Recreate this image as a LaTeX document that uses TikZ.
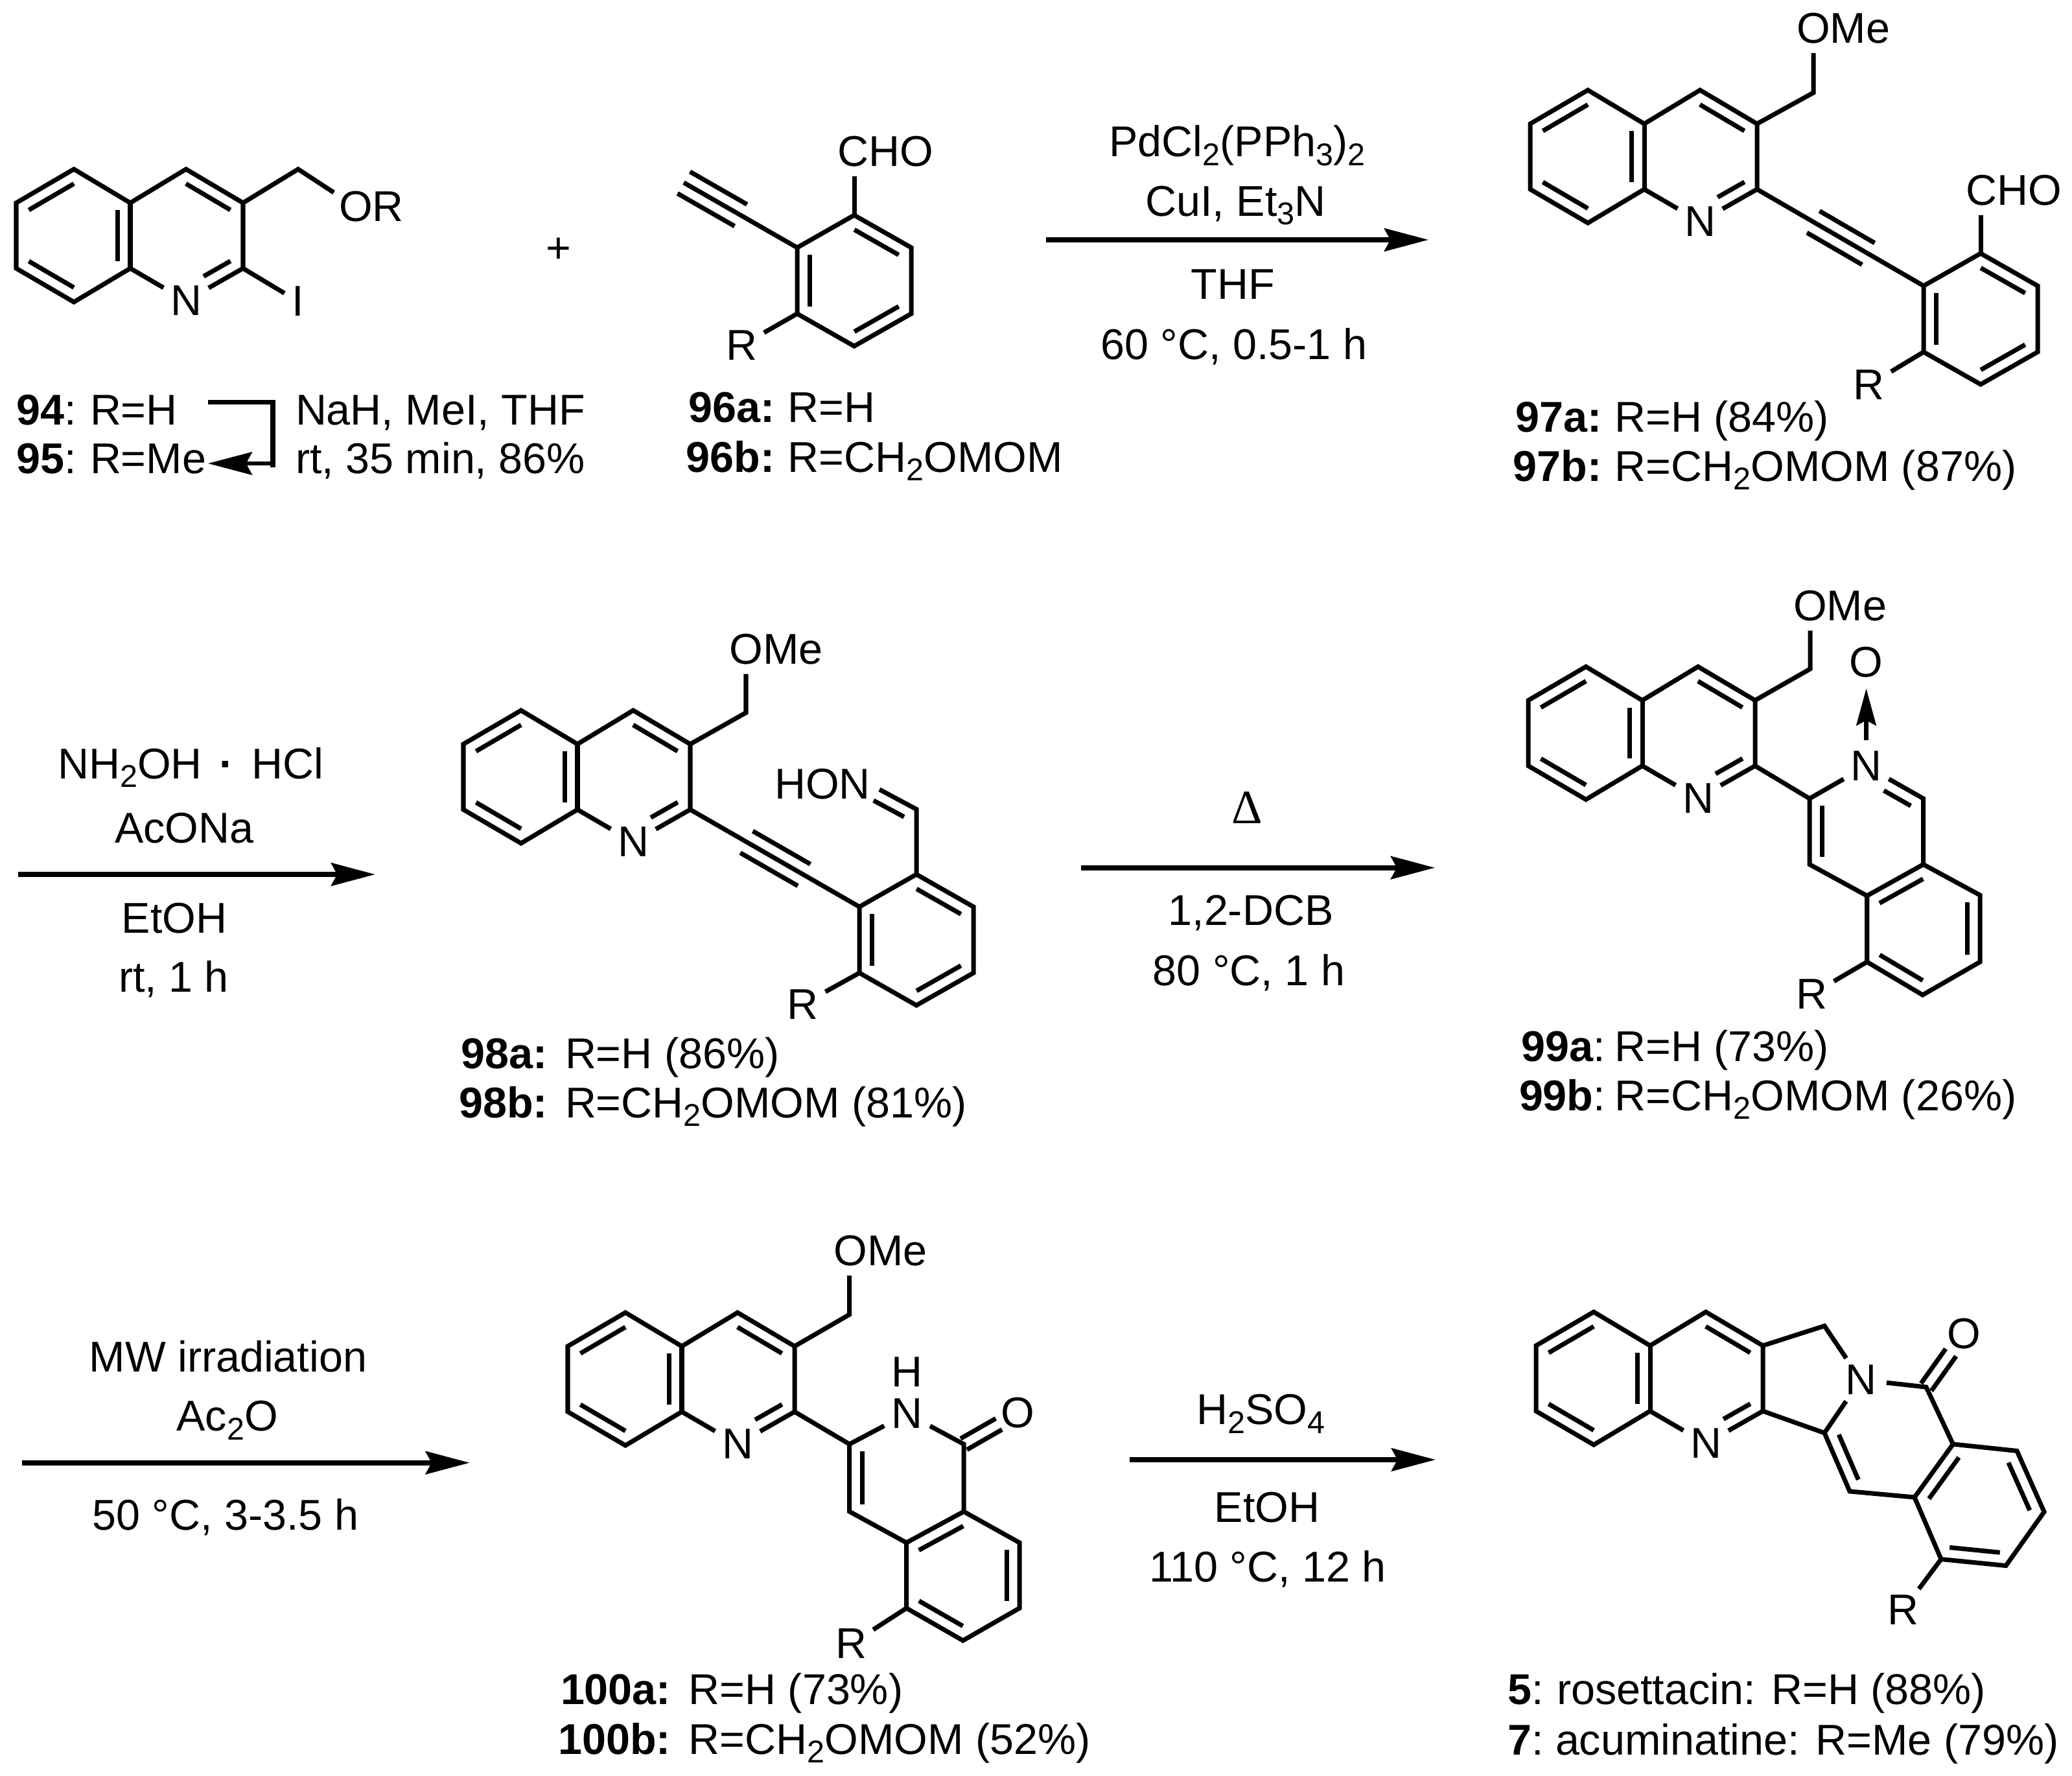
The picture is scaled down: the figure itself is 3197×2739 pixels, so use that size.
\documentclass[tikz,border=0pt]{standalone}
\usepackage{fontspec}
\setmainfont{Liberation Sans}
\newfontfamily\deltafont{Liberation Serif}
\usetikzlibrary{calc,arrows.meta}
\tikzset{
  bond/.style={line width=2pt,line join=miter,black},
  txt/.style={inner sep=0pt,outer sep=0pt,font=\fontsize{18.9pt}{20pt}\selectfont},
  atom/.style={txt,circle,minimum size=22.8pt},
  tinyatom/.style={txt,circle,minimum size=14pt},
  grp/.style={txt,anchor=base,outer ysep=4.3pt},
  reag/.style={txt,anchor=base},
  rxn/.style={line width=2.3pt,-{Stealth[length=19.3pt,width=10pt,inset=2.6pt]}},
}
\newcommand{\sbs}[1]{\raisebox{-3.8pt}{\fontsize{13.8pt}{14pt}\selectfont #1}}
\newcommand{\dblx}[4]{\draw[bond] ($(#1)!#3!(#2)!5.5pt!90:(#2)$) -- ($(#2)!#4!(#1)!5.5pt!-90:(#1)$);}
\newcommand{\dbl}[2]{\dblx{#1}{#2}{3.2pt}{3.2pt}}
\newcommand{\carbonyl}[3]{%
  \draw[bond] ($(#1)!2.8pt!90:(#2)$) -- ($(#2)!#3!(#1)!2.8pt!-90:(#1)$);
  \draw[bond] ($(#1)!2.8pt!-90:(#2)$) -- ($(#2)!#3!(#1)!2.8pt!90:(#1)$);}
\newcommand{\triplebond}[2]{\dblx{#1}{#2}{28.5pt}{28pt}\dblx{#2}{#1}{28pt}{28.5pt}\draw[bond] (#1)--(#2);}
\newcommand{\quin}[3]{%
  \begin{scope}[shift={(#2,#3)}]
    \coordinate (#1J) at (0,0);
    \coordinate (#1a) at (-87,-52);
    \coordinate (#1b) at (-176,0);
    \coordinate (#1c) at (-176,101);
    \coordinate (#1d) at (-87,153);
    \coordinate (#1K) at (0,101);
    \coordinate (#1C) at (174,101);
    \coordinate (#1D) at (174,0);
    \coordinate (#1E) at (86,-52);
    \node[atom] (#1N) at (86,151) {N};
  \end{scope}
  \draw[bond] (#1N)--(#1C)--(#1D)--(#1E)--(#1J)--(#1a)--(#1b)--(#1c)--(#1d)--(#1K)--(#1N);
  \draw[bond] (#1J)--(#1K);
  \dbl{#1a}{#1b}\dbl{#1c}{#1d}\dbl{#1K}{#1J}\dbl{#1D}{#1E}
  \dblx{#1N}{#1C}{12pt}{3.2pt}}
\newcommand{\aryl}[3]{%
  \begin{scope}[shift={(#2,#3)}]
    \coordinate (#1LT) at (0,0);
    \coordinate (#1T) at (88,-50);
    \coordinate (#1RT) at (176,0);
    \coordinate (#1RB) at (176,102);
    \coordinate (#1B) at (88,152);
    \coordinate (#1LB) at (0,102);
  \end{scope}
  \draw[bond] (#1LT)--(#1T)--(#1RT)--(#1RB)--(#1B)--(#1LB)--cycle;
  \dbl{#1RT}{#1T}\dbl{#1LT}{#1LB}\dbl{#1B}{#1RB}}
\newcommand{\lab}[6]{%
  \node[txt,anchor=base east] (#1id) at (#2,#4) {#5};
  \node[txt,anchor=base west] (#1r) at (#3,#4) {#6};}
\begin{document}
\begin{tikzpicture}[x=0.01cm,y=-0.01cm]
\useasboundingbox (0,0) rectangle (3197,2739);

% ---------- 94 / 95
\quin{p}{201}{313}
\coordinate (pch) at (460,261);
\coordinate (porb) at (515,297);
\node[reag] (por) at (573,341) {OR};
\node[tinyatom] (pI) at (460,465) {I};
\draw[bond] (pD)--(pch)--(porb);
\draw[bond] (pC)--(pI);
\lab{pa}{118}{139}{655}{\textbf{94}:}{R=H}
\lab{pb}{118}{139}{730}{\textbf{95}:}{R=Me}
\node[txt,anchor=base west] (pc1) at (456,655) {NaH, MeI, THF};
\node[txt,anchor=base west] (pc2) at (456,730) {rt, 35 min, 86\%};
\coordinate (ms) at (321,620.6);
\coordinate (mc) at (421,620.6);
\coordinate (md) at (421,721);
\coordinate (me) at (421,715);
\coordinate (mt) at (321,715);
\draw[bond] (ms)--(mc)--(md);
\draw[line width=1.7pt,-{Stealth[length=19.3pt,width=10pt,inset=2.6pt]}] (me)--(mt);
\node[txt] (plus) at (862,386) {+};

% ---------- 96
\aryl{q}{1230}{382}
\coordinate (qe) at (1055,281.7);
\node[grp] (qcho) at (1366,256) {CHO};
\node[atom] (qR) at (1144,533) {R};
\draw[bond] (qT)--(qcho.south -| qT);
\draw[bond] (qLB)--(qR);
\draw[bond] (qe)--(qLT);
\dblx{qe}{qLT}{0pt}{28.5pt}
\dblx{qLT}{qe}{28.5pt}{0pt}
\lab{qa}{1195.5}{1215.6}{651}{\textbf{96a:}}{R=H}
\lab{qb}{1195.5}{1215.6}{728}{\textbf{96b:}}{R=CH\sbs{2}OMOM}

% ---------- arrow 1
\coordinate (a1s) at (1614,370);
\coordinate (a1t) at (2204,370);
\draw[rxn] (a1s)--(a1t);
\node[reag] (a1a) at (1909,241.7) {PdCl\sbs{2}(PPh\sbs{3})\sbs{2}};
\node[reag] (a1b) at (1906.5,333) {CuI, Et\sbs{3}N};
\node[reag] (a1c) at (1902,461.7) {THF};
\node[reag] (a1d) at (1904,554) {60 °C, 0.5-1 h};

% ---------- 97
\quin{r}{2537}{191}
\aryl{s}{2968}{441}
\coordinate (rch) at (2798,143);
\node[grp] (rome) at (2844,66) {OMe};
\node[grp] (rcho) at (3107,316) {CHO};
\node[atom] (sR) at (2883.5,594) {R};
\draw[bond] (rD)--(rch)--(rome.south -| rch);
\draw[bond] (sT)--(rcho.south -| sT);
\draw[bond] (sLB)--(sR);
\triplebond{rC}{sLT}
\lab{ra}{2471.6}{2491.6}{666}{\textbf{97a:}}{R=H (84\%)}
\lab{rb}{2471.6}{2491.6}{742}{\textbf{97b:}}{R=CH\sbs{2}OMOM (87\%)}

% ---------- arrow 2
\coordinate (a2s) at (28,1349);
\coordinate (a2t) at (579,1349);
\draw[rxn] (a2s)--(a2t);
\node[reag] (a2a) at (294,1201) {NH\sbs{2}OH\hspace{.13em} \textbf{·} \hspace{.13em}HCl};
\node[reag] (a2b) at (284.5,1300.7) {AcONa};
\node[reag] (a2c) at (269,1439) {EtOH};
\node[reag] (a2d) at (268,1530.7) {rt, 1 h};

% ---------- 98
\quin{t}{891}{1148}
\aryl{u}{1326}{1399}
\coordinate (tch) at (1151,1099.5);
\node[grp] (tome) at (1197.5,1024) {OMe};
\draw[bond] (tD)--(tch)--(tome.south -| tch);
\triplebond{tC}{uLT}
\coordinate (uch) at (1414,1248.5);
\coordinate (unoe) at (1357,1218);
\node[reag] (uhon) at (1269,1232) {HON};
\draw[bond] (unoe)--(uch)--(uT);
\dblx{uch}{unoe}{3.2pt}{0pt}
\node[atom] (uR) at (1238.5,1549.5) {R};
\draw[bond] (uLB)--(uR);
\lab{ta}{845}{872}{1648}{\textbf{98a:}}{R=H (86\%)}
\lab{tb}{845}{872}{1724.5}{\textbf{98b:}}{R=CH\sbs{2}OMOM (81\%)}

% ---------- arrow 3
\coordinate (a3s) at (1667.7,1338.7);
\coordinate (a3t) at (2214,1338.7);
\draw[rxn] (a3s)--(a3t);
\node[reag,font=\fontsize{21pt}{22pt}\selectfont] (a3a) at (1924.7,1270.7) {\deltafont Δ};
\node[reag] (a3b) at (1930,1427.7) {1,2-DCB};
\node[reag] (a3c) at (1927,1520) {80 °C, 1 h};

% ---------- 99
\quin{v}{2534}{1080.5}
\coordinate (vch) at (2793,1032);
\node[grp] (vome) at (2839,957) {OMe};
\draw[bond] (vD)--(vch)--(vome.south -| vch);
\node[atom] (wN) at (2879.5,1182) {N};
\node[atom] (wO) at (2879.5,1022) {O};
\draw[bond,-{Stealth[length=16.2pt,width=8.6pt,inset=2.2pt]}] (wN)--(wO);
\coordinate (w3) at (2792,1232);
\coordinate (w4) at (2792,1333.6);
\coordinate (w4a) at (2880.7,1382);
\coordinate (w8a) at (2967.6,1333.6);
\coordinate (w1) at (2967.6,1232);
\coordinate (w5) at (2880.7,1484);
\coordinate (w6) at (2966.5,1535);
\coordinate (w7) at (3055,1484);
\coordinate (w8) at (3055,1381);
\draw[bond] (vC)--(w3);
\draw[bond] (wN)--(w3)--(w4)--(w4a)--(w5)--(w6)--(w7)--(w8)--(w8a)--(w1)--(wN);
\draw[bond] (w4a)--(w8a);
\dbl{w3}{w4}\dbl{w8a}{w4a}\dbl{w5}{w6}\dbl{w7}{w8}
\dblx{w1}{wN}{3.2pt}{12pt}
\node[atom] (wR) at (2795,1534) {R};
\draw[bond] (w5)--(wR);
\lab{va}{2477}{2491.6}{1637}{\textbf{99a}:}{R=H (73\%)}
\lab{vb}{2477}{2491.6}{1713}{\textbf{99b}:}{R=CH\sbs{2}OMOM (26\%)}

% ---------- arrow 4
\coordinate (a4s) at (34,2256.7);
\coordinate (a4t) at (724.7,2256.7);
\draw[rxn] (a4s)--(a4t);
\node[reag] (a4a) at (352,2116) {MW irradiation};
\node[reag] (a4b) at (350.7,2207.7) {Ac\sbs{2}O};
\node[reag] (a4c) at (348,2360) {50 °C, 3-3.5 h};

% ---------- 100
\quin{x}{1052}{2077}
\coordinate (xch) at (1310.7,2028);
\node[grp] (xome) at (1358.5,1952) {OMe};
\draw[bond] (xD)--(xch)--(xome.south -| xch);
\node[atom] (yN) at (1399.7,2181) {N};
\node[txt] (yH) at (1399.7,2117) {H};
\node[atom] (yO) at (1570.8,2180) {O};
\coordinate (y3) at (1310.7,2228);
\coordinate (y4) at (1310.7,2332);
\coordinate (y4a) at (1398.6,2380);
\coordinate (y8a) at (1487,2332);
\coordinate (y1) at (1487,2228);
\coordinate (y5) at (1398.6,2481);
\coordinate (y6) at (1485.8,2531);
\coordinate (y7) at (1573,2481);
\coordinate (y8) at (1573,2380);
\draw[bond] (xC)--(y3);
\draw[bond] (yN)--(y3)--(y4)--(y4a)--(y5)--(y6)--(y7)--(y8)--(y8a)--(y1)--(yN);
\draw[bond] (y4a)--(y8a);
\dbl{y3}{y4}\dbl{y8a}{y4a}\dbl{y5}{y6}\dbl{y7}{y8}
\carbonyl{y1}{yO}{9.7pt}
\node[atom] (yR) at (1313.6,2536) {R};
\draw[bond] (y5)--(yR);
\lab{xa}{1035}{1062.7}{2629.6}{\textbf{100a:}}{R=H (73\%)}
\lab{xb}{1035}{1062.7}{2706}{\textbf{100b:}}{R=CH\sbs{2}OMOM (52\%)}

% ---------- arrow 5
\coordinate (a5s) at (1743,2252);
\coordinate (a5t) at (2215,2252);
\draw[rxn] (a5s)--(a5t);
\node[reag] (a5a) at (1945,2197.7) {H\sbs{2}SO\sbs{4}};
\node[reag] (a5b) at (1955,2348.3) {EtOH};
\node[reag] (a5c) at (1956,2440) {110 °C, 12 h};

% ---------- 5 / 7
\quin{z}{2546}{2076}
\node[atom] (zN2) at (2871,2128.7) {N};
\node[atom] (zO) at (3030.5,2058) {O};
\node[atom] (zR) at (2936.7,2483.5) {R};
\coordinate (zch) at (2815,2045.6);
\coordinate (zc5) at (2815,2210.7);
\coordinate (zc4) at (2854,2300.8);
\coordinate (zco) at (2972,2140);
\coordinate (zr1) at (3013.4,2228);
\coordinate (zr2) at (3112,2238.4);
\coordinate (zr3) at (3154,2332.5);
\coordinate (zr4) at (3095,2415.5);
\coordinate (zr5) at (2995,2405.5);
\coordinate (zr6) at (2954,2310);
\draw[bond] (zD)--(zch)--(zN2);
\draw[bond] (zC)--(zc5)--(zN2);
\draw[bond] (zN2)--(zco)--(zr1)--(zr2)--(zr3)--(zr4)--(zr5)--(zr6)--(zc4)--(zc5);
\draw[bond] (zr1)--(zr6);
\dbl{zc5}{zc4}\dbl{zr1}{zr6}\dbl{zr5}{zr4}\dbl{zr3}{zr2}
\carbonyl{zco}{zO}{10pt}
\draw[bond] (zr5)--(zR);
\lab{za}{2382}{2402}{2629}{\textbf{5}:}{rosettacin: R=H (88\%)}
\lab{zb}{2382}{2400}{2707}{\textbf{7}:}{acuminatine: R=Me (79\%)}
\end{tikzpicture}
\end{document}
